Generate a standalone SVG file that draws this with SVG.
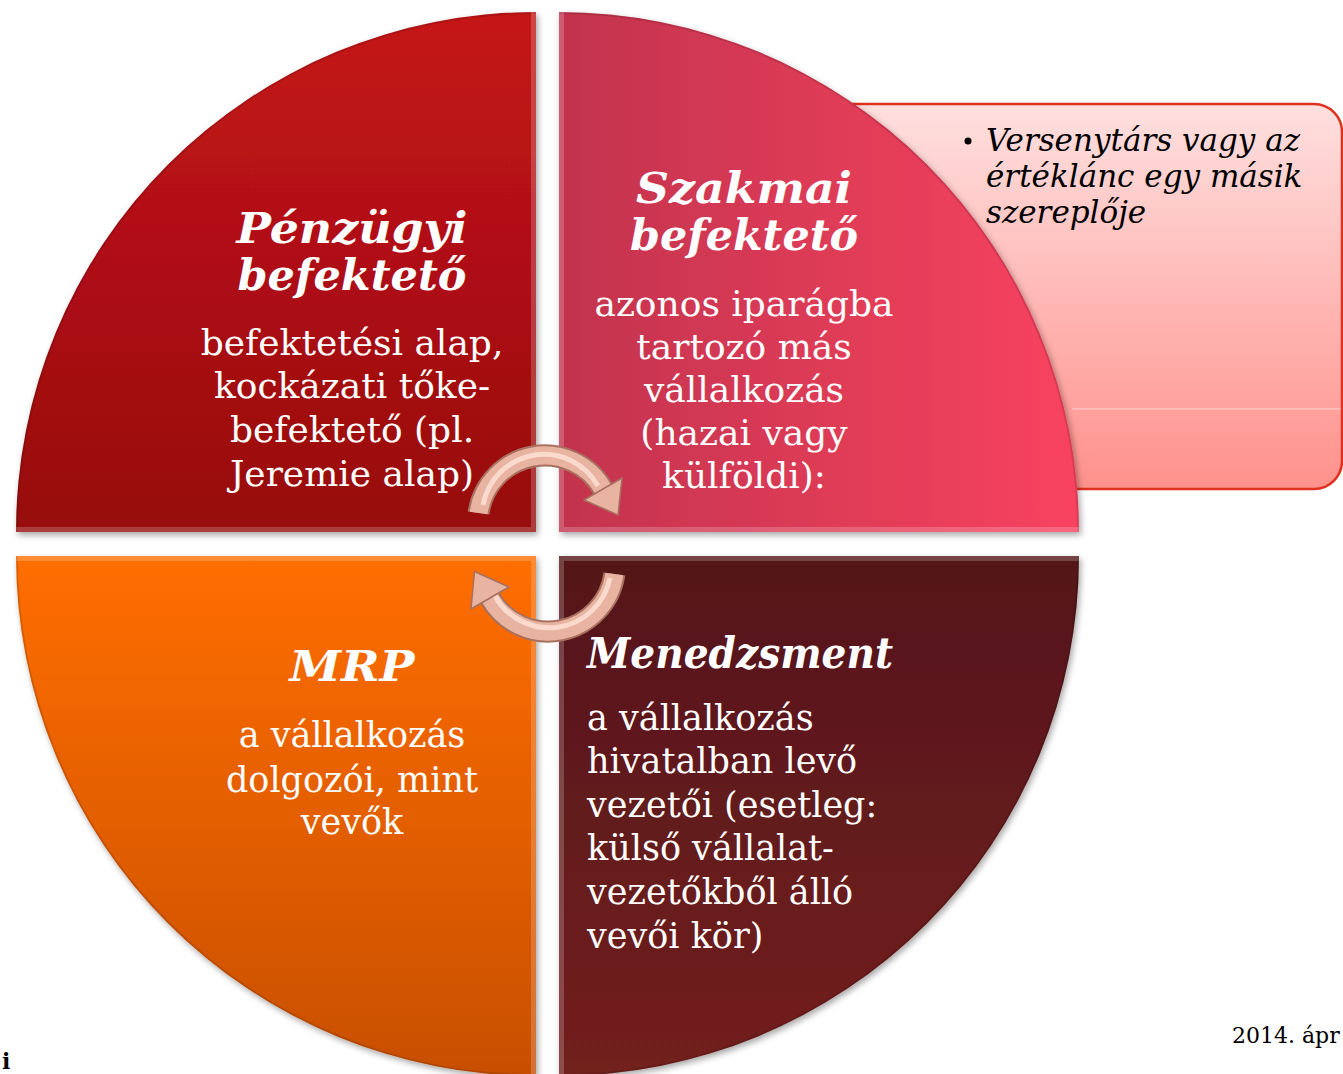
<svg xmlns="http://www.w3.org/2000/svg" width="1343" height="1074" viewBox="0 0 1343 1074">
<defs>
<style>
.title{font-family:"DejaVu Serif","Liberation Serif",serif;font-weight:bold;font-style:italic;font-size:42px;fill:#fff}
.body{font-family:"DejaVu Serif","Liberation Serif",serif;font-size:36px;fill:#fff}
.body2{font-family:"DejaVu Serif","Liberation Serif",serif;font-size:35px;fill:#fff}
.note{font-family:"DejaVu Serif","Liberation Serif",serif;font-style:italic;font-size:31px;fill:#000}
.foot{font-family:"DejaVu Serif","Liberation Serif",serif;font-size:22px;fill:#000}
.bevel{fill:none;stroke:#fff;stroke-opacity:0.2;stroke-width:10}
.rim{fill:none;stroke:#000;stroke-opacity:0.12;stroke-width:4}
.arrOut{fill:none;stroke:#a8705f;stroke-width:22}
.arrIn{fill:none;stroke:#e9b3a1;stroke-width:18}
.arrHi{fill:none;stroke:#fbe0d5;stroke-width:5;stroke-opacity:0.85}
.head{fill:#e9b3a1;stroke:#a8705f;stroke-width:1.5;stroke-linejoin:round}
</style>
<linearGradient id="gTL" x1="0" y1="0" x2="0" y2="1"><stop offset="0" stop-color="#c51518"/><stop offset="1" stop-color="#970a0e"/></linearGradient>
<linearGradient id="gTR" x1="0" y1="0" x2="1" y2="0"><stop offset="0" stop-color="#c2334d"/><stop offset="1" stop-color="#f84360"/></linearGradient>
<linearGradient id="gBL" x1="0" y1="0" x2="0" y2="1"><stop offset="0" stop-color="#ff6e05"/><stop offset="1" stop-color="#c84f06"/></linearGradient>
<linearGradient id="gBR" x1="0" y1="0" x2="0" y2="1"><stop offset="0" stop-color="#531519"/><stop offset="1" stop-color="#73201f"/></linearGradient>
<linearGradient id="gBox" x1="0" y1="0" x2="0" y2="1"><stop offset="0" stop-color="#fee0df"/><stop offset="1" stop-color="#ff918c"/></linearGradient>
<filter id="sh" x="-5%" y="-5%" width="112%" height="112%"><feDropShadow dx="2" dy="3" stdDeviation="3" flood-color="#000" flood-opacity="0.35"/></filter>
<clipPath id="cTL"><path d="M536,532 L16,532 A520,520 0 0 1 536,12 Z"/></clipPath>
<clipPath id="cTR"><path d="M559,532 L559,12 A520,520 0 0 1 1079,532 Z"/></clipPath>
<clipPath id="cBR"><path d="M559,556 L1079,556 A520,520 0 0 1 559,1076 Z"/></clipPath>
<clipPath id="cBL"><path d="M536,556 L536,1076 A520,520 0 0 1 16,556 Z"/></clipPath>
</defs>
<rect width="1343" height="1074" fill="#fff"/>

<g id="callout">
<rect x="780" y="104" width="562" height="385" rx="28" fill="url(#gBox)" stroke="#e0301e" stroke-width="2.5"/>
<line x1="1072" y1="409" x2="1341" y2="409" stroke="#fff" stroke-opacity="0.5" stroke-width="1"/>
<circle cx="968" cy="141" r="3.5" fill="#000"/>
<text class="note" x="986" y="151">Versenytárs vagy az</text>
<text class="note" x="986" y="187">értéklánc egy másik</text>
<text class="note" x="986" y="223">szereplője</text>
</g>

<g id="q-penzugyi">
<path d="M536,532 L16,532 A520,520 0 0 1 536,12 Z" fill="url(#gTL)" filter="url(#sh)"/>
<g clip-path="url(#cTL)"><path class="rim" d="M16,532 A520,520 0 0 1 536,12"/><path class="bevel" d="M16,532 L536,532 L536,12"/></g>
<text class="title" x="352" y="243" text-anchor="middle" textLength="231" lengthAdjust="spacingAndGlyphs">Pénzügyi</text>
<text class="title" x="352" y="290" text-anchor="middle" textLength="229" lengthAdjust="spacingAndGlyphs">befektető</text>
<text class="body" x="352" y="355" text-anchor="middle">befektetési alap,</text>
<text class="body" x="352" y="398" text-anchor="middle">kockázati tőke-</text>
<text class="body" x="352" y="442" text-anchor="middle">befektető (pl.</text>
<text class="body" x="352" y="486" text-anchor="middle">Jeremie alap)</text>
</g>

<g id="q-szakmai">
<path d="M559,532 L559,12 A520,520 0 0 1 1079,532 Z" fill="url(#gTR)" filter="url(#sh)"/>
<g clip-path="url(#cTR)"><path class="rim" d="M559,12 A520,520 0 0 1 1079,532"/><path class="bevel" d="M1079,532 L559,532 L559,12"/></g>
<text class="title" x="744" y="203" text-anchor="middle" textLength="216" lengthAdjust="spacingAndGlyphs">Szakmai</text>
<text class="title" x="744" y="250" text-anchor="middle" textLength="228" lengthAdjust="spacingAndGlyphs">befektető</text>
<text class="body" x="744" y="316" text-anchor="middle">azonos iparágba</text>
<text class="body" x="744" y="359" text-anchor="middle">tartozó más</text>
<text class="body" x="744" y="402" text-anchor="middle">vállalkozás</text>
<text class="body" x="744" y="445" text-anchor="middle">(hazai vagy</text>
<text class="body" x="744" y="488" text-anchor="middle">külföldi):</text>
</g>

<g id="q-mrp">
<path d="M536,556 L536,1076 A520,520 0 0 1 16,556 Z" fill="url(#gBL)" filter="url(#sh)"/>
<g clip-path="url(#cBL)"><path class="rim" d="M536,1076 A520,520 0 0 1 16,556"/><path class="bevel" d="M16,556 L536,556 L536,1076"/></g>
<text class="title" x="352" y="681" text-anchor="middle" textLength="125" lengthAdjust="spacingAndGlyphs">MRP</text>
<text class="body2" x="352" y="747" text-anchor="middle">a vállalkozás</text>
<text class="body2" x="352" y="792" text-anchor="middle">dolgozói, mint</text>
<text class="body2" x="352" y="834" text-anchor="middle">vevők</text>
</g>

<g id="q-menedzsment">
<path d="M559,556 L1079,556 A520,520 0 0 1 559,1076 Z" fill="url(#gBR)" filter="url(#sh)"/>
<g clip-path="url(#cBR)"><path class="rim" d="M1079,556 A520,520 0 0 1 559,1076"/><path class="bevel" d="M1079,556 L559,556 L559,1076"/></g>
<text class="title" x="587" y="668" textLength="306" lengthAdjust="spacingAndGlyphs">Menedzsment</text>
<text class="body2" x="587" y="730">a vállalkozás</text>
<text class="body2" x="587" y="773">hivatalban levő</text>
<text class="body2" x="587" y="817">vezetői (esetleg:</text>
<text class="body2" x="587" y="860">külső vállalat-</text>
<text class="body2" x="587" y="904">vezetőkből álló</text>
<text class="body2" x="587" y="948">vevői kör)</text>
</g>

<g id="connectors">
<g id="arrow-top">
<path class="arrOut" d="M478.6,513 A67,67 0 0 1 603,489"/>
<path class="arrIn" d="M478.6,513 A67,67 0 0 1 603,489"/>
<path class="arrHi" d="M483,505 A62,62 0 0 1 598,486"/>
<polygon class="head" points="584,500 622,478 618,515"/>
</g>
<g id="arrow-bottom">
<path class="arrOut" d="M614.4,574 A67,67 0 0 1 490,598"/>
<path class="arrIn" d="M614.4,574 A67,67 0 0 1 490,598"/>
<path class="arrHi" d="M610,578 A62,62 0 0 1 494,594"/>
<polygon class="head" points="509,587 471,609 474.5,571.5"/>
</g>
</g>

<text class="foot" x="1232" y="1043">2014. ápr</text>
<text class="foot" x="2" y="1069" font-weight="bold" font-size="24">i</text>
</svg>
